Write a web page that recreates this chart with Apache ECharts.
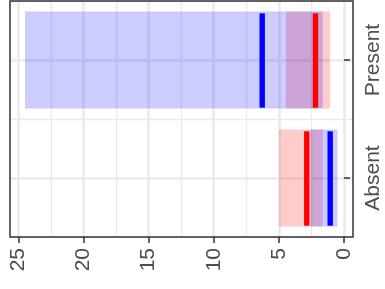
<!DOCTYPE html>
<html>
<head>
<meta charset="utf-8">
<script src="https://cdn.jsdelivr.net/npm/echarts@6/dist/echarts.min.js"></script>
<style>
  html, body { margin: 0; padding: 0; background: #fff; }
  #chart { width: 385px; height: 289px; }
</style>
</head>
<body>
<div id="chart"></div>
<script>
  // categories on the (right-hand) y axis, bottom to top
  var categories = ['Absent', 'Present']
  // blue group: box ends and median
  var blueLow = [0.5, 1.63]
  var blueHigh = [2.56, 24.49]
  var blueMed = [1.06, 6.28]
  // red group: box ends and median
  var redLow = [1.63, 1.07]
  var redHigh = [4.99, 4.45]
  var redMed = [2.86, 2.19]
  var xTicks = [0, 5, 10, 15, 20, 25]

  var font = '"Liberation Sans", Arial, Helvetica, sans-serif'
  var textColor = '#4d4d4d'

  function boxSeries (lows, highs, color) {
    return {
      type: 'custom',
      xAxisIndex: 0,
      yAxisIndex: 0,
      z: 2,
      renderItem: function (params, api) {
        var cat = api.value(0)
        var a = api.coord([api.value(1), cat])
        var b = api.coord([api.value(2), cat])
        var h = api.size([0, 1])[1] * 0.82
        return {
          type: 'rect',
          shape: { x: Math.min(a[0], b[0]), y: a[1] - h / 2, width: Math.abs(b[0] - a[0]), height: h },
          style: { fill: color }
        }
      },
      encode: { x: [1, 2], y: 0 },
      data: categories.map(function (c, i) { return [i, lows[i], highs[i]] })
    }
  }

  function medianSeries (meds, color) {
    return {
      type: 'custom',
      xAxisIndex: 0,
      yAxisIndex: 0,
      z: 3,
      renderItem: function (params, api) {
        var p = api.coord([api.value(1), api.value(0)])
        var h = api.size([0, 1])[1] * 0.8
        return {
          type: 'rect',
          shape: { x: p[0] - 2.7, y: p[1] - h / 2 + 0.5, width: 5.4, height: h },
          style: { fill: color }
        }
      },
      encode: { x: 1, y: 0 },
      data: categories.map(function (c, i) { return [i, meds[i]] })
    }
  }

  var chart = echarts.init(document.getElementById('chart'))
  chart.setOption({
    animation: false,
    grid: [
      { left: 10, right: 32, top: 1, bottom: 52, show: true, borderColor: '#333333', borderWidth: 1.5, z: 5 },
      { left: 18.3, right: 41, top: 1, bottom: 52 }
    ],
    xAxis: [
      { type: 'value', gridIndex: 0, inverse: true, min: -0.69, max: 25.64, show: false },
      {
        type: 'value',
        gridIndex: 1,
        inverse: true,
        min: xTicks[0],
        max: xTicks[xTicks.length - 1],
        interval: 5,
        position: 'bottom',
        axisLine: { show: false },
        axisTick: { show: true, length: 6, lineStyle: { color: '#333333', width: 1.5 } },
        axisLabel: { rotate: 90, margin: 11, fontSize: 21, color: textColor, fontFamily: font },
        splitLine: { show: true, lineStyle: { color: '#ebebeb', width: 2.6 } },
        minorTick: { show: false, splitNumber: 2 },
        minorSplitLine: { show: true, lineStyle: { color: '#ebebeb', width: 1.4 } }
      }
    ],
    yAxis: [
      {
        type: 'category',
        gridIndex: 0,
        data: categories,
        position: 'right',
        axisLine: { show: false },
        axisTick: { show: true, alignWithLabel: true, length: 6, lineStyle: { color: '#333333', width: 1.5 } },
        axisLabel: { rotate: 90, margin: 10, fontSize: 21, color: textColor, fontFamily: font },
        splitLine: { show: true, alignWithLabel: true, lineStyle: { color: '#ebebeb', width: 2.6 } }
      },
      {
        type: 'category',
        gridIndex: 0,
        data: categories,
        axisLine: { show: false },
        axisTick: { show: false },
        axisLabel: { show: false },
        splitLine: { show: true, lineStyle: { color: '#ebebeb', width: 1.4 } }
      },
      { type: 'value', gridIndex: 1, show: false }
    ],
    series: [
      boxSeries(redLow, redHigh, 'rgba(255,0,0,0.2)'),
      boxSeries(blueLow, blueHigh, 'rgba(0,0,255,0.2)'),
      medianSeries(blueMed, '#0000ff'),
      medianSeries(redMed, '#ff0000')
    ]
  })
</script>
</body>
</html>
